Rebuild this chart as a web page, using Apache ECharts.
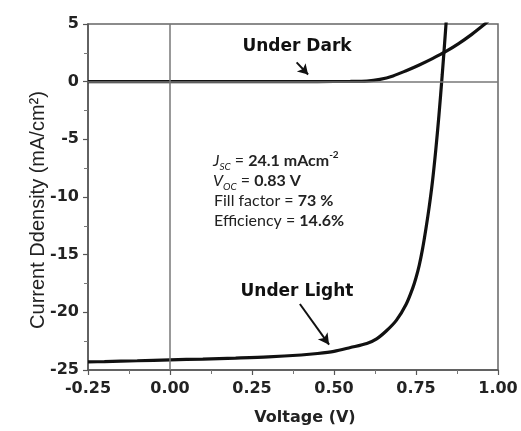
<!DOCTYPE html>
<html><head><meta charset="utf-8">
<script src="https://cdn.jsdelivr.net/npm/echarts@6/dist/echarts.min.js"></script>
<style>html,body{margin:0;padding:0;background:#fff}#c{width:521px;height:431px}</style>
</head><body><div id="c"></div>
<script>
// ---- data ----
const xMin = -0.25, xMax = 1.0, xStep = 0.25;
const yMin = -25, yMax = 5, yStep = 5;
const lightV = [-0.25, -0.2, -0.1, 0, 0.1, 0.2, 0.3, 0.4, 0.45, 0.5, 0.55, 0.6, 0.63, 0.66, 0.69, 0.72, 0.74, 0.75, 0.76, 0.77, 0.78, 0.79, 0.80, 0.81, 0.82, 0.83, 0.84, 0.845];
const lightJ = [-24.3, -24.27, -24.2, -24.12, -24.05, -23.97, -23.87, -23.7, -23.57, -23.38, -23.05, -22.7, -22.3, -21.6, -20.7, -19.3, -17.9, -17.0, -15.9, -14.5, -12.8, -10.9, -8.7, -6.0, -2.9, 0.6, 4.4, 6.4];
const darkV = [-0.25, 0.0, 0.2, 0.45, 0.55, 0.6, 0.64, 0.68, 0.72, 0.76, 0.80, 0.84, 0.88, 0.92, 0.96, 0.97];
const darkJ = [0, 0, 0, 0.01, 0.02, 0.05, 0.2, 0.5, 0.95, 1.45, 2.0, 2.6, 3.3, 4.1, 5.0, 5.25];
const seriesNames = ['Under Dark', 'Under Light'];
const xName = 'Voltage (V)';
const yName = 'Current Ddensity (mA/cm²)';
// arrows (data coordinates): [startV, startJ, endV, endJ]
const darkArrow = [0.386, 1.67, 0.421, 0.62];
const lightArrow = [0.396, -19.28, 0.485, -22.8];

const zip = (a, b) => a.map((v, i) => [v, b[i]]);
const chart = echarts.init(document.getElementById('c'), null, {renderer: 'canvas'});
const tickFont = {fontFamily: 'DejaVu Sans', fontWeight: 'bold', fontSize: 16, color: '#222'};
const statFont = 'Lato';

const arrowLine = (a) => [{coord: [a[0], a[1]]}, {coord: [a[2], a[3]]}];

chart.setOption({
  animation: false,
  grid: {left: 88, right: 23, top: 24, bottom: 61, show: true, borderColor: '#666', borderWidth: 1.5},
  xAxis: {
    type: 'value', min: xMin, max: xMax, interval: xStep,
    axisLine: {onZero: false, lineStyle: {color: '#555', width: 1.5}},
    axisTick: {show: true, length: 5, lineStyle: {color: '#555', width: 1.2}},
    minorTick: {show: true, splitNumber: 2, length: 4, lineStyle: {color: '#777'}},
    splitLine: {show: false},
    axisLabel: Object.assign({margin: 11, formatter: v => v.toFixed(2)}, tickFont)
  },
  yAxis: {
    type: 'value', min: yMin, max: yMax, interval: yStep,
    axisLine: {onZero: false, lineStyle: {color: '#555', width: 1.5}},
    axisTick: {show: true, length: 5, lineStyle: {color: '#555', width: 1.2}},
    minorTick: {show: true, splitNumber: 2, length: 4, lineStyle: {color: '#777'}},
    splitLine: {show: false},
    axisLabel: Object.assign({margin: 9}, tickFont)
  },
  series: [
    {
      type: 'line', data: [], z: 1, silent: true,
      markLine: {
        silent: true, symbol: ['none', 'none'], label: {show: false},
        lineStyle: {color: '#777', width: 1.5, type: 'solid'},
        data: [{xAxis: 0}, {yAxis: 0}]
      }
    },
    {
      name: seriesNames[0], type: 'line', data: zip(darkV, darkJ), z: 3,
      showSymbol: false, smooth: 0.3,
      lineStyle: {color: '#111', width: 3.2}, clip: true,
      markLine: {
        silent: true, symbol: ['none', 'arrow'], symbolSize: [9, 10], label: {show: false},
        lineStyle: {color: '#111', width: 2, type: 'solid'},
        data: [arrowLine(darkArrow)]
      }
    },
    {
      name: seriesNames[1], type: 'line', data: zip(lightV, lightJ), z: 3,
      showSymbol: false, smooth: 0.3,
      lineStyle: {color: '#111', width: 3.2}, clip: true,
      markLine: {
        silent: true, symbol: ['none', 'arrow'], symbolSize: [9, 11], label: {show: false},
        lineStyle: {color: '#111', width: 2, type: 'solid'},
        data: [arrowLine(lightArrow)]
      }
    }
  ],
  graphic: [
    {type: 'text', x: 305, y: 418, style: {text: xName, font: 'bold 16px "DejaVu Sans"', fill: '#222', textAlign: 'center', textVerticalAlign: 'middle'}},
    {type: 'text', x: 38, y: 210, rotation: Math.PI / 2, style: {text: yName, font: '20px "Liberation Sans"', fill: '#222', textAlign: 'center', textVerticalAlign: 'middle'}},
    {type: 'text', x: 297, y: 47, style: {text: seriesNames[0], font: 'bold 17px "DejaVu Sans"', fill: '#111', textAlign: 'center', textVerticalAlign: 'middle'}},
    {type: 'text', x: 297, y: 292, style: {text: seriesNames[1], font: 'bold 17px "DejaVu Sans"', fill: '#111', textAlign: 'center', textVerticalAlign: 'middle'}},
    {type: 'text', x: 213, y: 150, style: {
      text: '{i|J}{sub|SC}{n| = }{b|24.1 mAcm}{sup|-2}',
      fill: '#222',
      rich: {
        i: {fontFamily: statFont, fontSize: 16, fontStyle: 'italic', lineHeight: 22, verticalAlign: 'middle'},
        sub: {fontFamily: statFont, fontSize: 10, fontStyle: 'italic', lineHeight: 10, verticalAlign: 'bottom'},
        n: {fontFamily: statFont, fontSize: 16, lineHeight: 22, verticalAlign: 'middle'},
        b: {fontFamily: statFont, fontSize: 16, fontWeight: 'bold', lineHeight: 22, verticalAlign: 'middle'},
        sup: {fontFamily: statFont, fontSize: 10, fontWeight: 'bold', lineHeight: 10, verticalAlign: 'top'}
      }
    }},
    {type: 'text', x: 213, y: 170, style: {
      text: '{i|V}{sub|OC}{n| = }{b|0.83 V}',
      fill: '#222',
      rich: {
        i: {fontFamily: statFont, fontSize: 16, fontStyle: 'italic', lineHeight: 22, verticalAlign: 'middle'},
        sub: {fontFamily: statFont, fontSize: 10, fontStyle: 'italic', lineHeight: 10, verticalAlign: 'bottom'},
        n: {fontFamily: statFont, fontSize: 16, lineHeight: 22, verticalAlign: 'middle'},
        b: {fontFamily: statFont, fontSize: 16, fontWeight: 'bold', lineHeight: 22, verticalAlign: 'middle'}
      }
    }},
    {type: 'text', x: 214, y: 190, style: {
      text: '{n|Fill factor = }{b|73 %}',
      fill: '#222',
      rich: {
        n: {fontFamily: statFont, fontSize: 16, lineHeight: 22},
        b: {fontFamily: statFont, fontSize: 16, fontWeight: 'bold', lineHeight: 22}
      }
    }},
    {type: 'text', x: 214, y: 210, style: {
      text: '{n|Efficiency = }{b|14.6%}',
      fill: '#222',
      rich: {
        n: {fontFamily: statFont, fontSize: 16, lineHeight: 22},
        b: {fontFamily: statFont, fontSize: 16, fontWeight: 'bold', lineHeight: 22}
      }
    }}
  ]
});
</script>
</body></html>
